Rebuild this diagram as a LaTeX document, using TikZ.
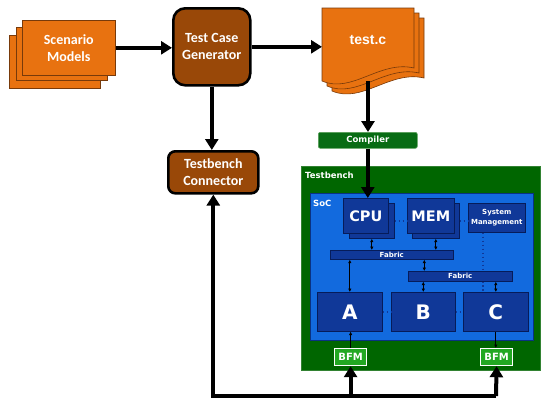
\documentclass[tikz,border=0pt]{standalone}
\usepackage{fontspec}
\setmainfont{DejaVu Sans}
\newfontfamily\calfont{Carlito}
\newfontfamily\arialfont{Liberation Sans}
\usetikzlibrary{arrows.meta}
\definecolor{scenorange}{RGB}{232,114,16}
\definecolor{orangeedge}{RGB}{120,58,10}
\definecolor{genbrown}{RGB}{153,72,8}
\definecolor{tbgreen}{RGB}{0,102,0}
\definecolor{tbedge}{RGB}{50,130,50}
\definecolor{compgreen}{RGB}{8,108,20}
\definecolor{compedge}{RGB}{90,160,90}
\definecolor{socblue}{RGB}{18,106,222}
\definecolor{socedge}{RGB}{10,50,130}
\definecolor{blkblue}{RGB}{16,56,152}
\definecolor{blkedge}{RGB}{6,28,90}
\definecolor{bfmgreen}{RGB}{34,168,34}
\tikzset{
  flowbox/.style={anchor=north west, inner sep=0pt, text=white, align=center},
  orangebox/.style={flowbox, fill=scenorange, draw=orangeedge, line width=0.6pt},
  brownbox/.style={flowbox, fill=genbrown, draw=black, line width=2.6pt,
    font=\calfont\bfseries\fontsize{14}{17}\selectfont},
  bluebox/.style={flowbox, fill=blkblue, draw=blkedge, line width=0.6pt, font=\bfseries},
  bfmbox/.style={flowbox, fill=bfmgreen, draw=white, line width=1.2pt, minimum width=32pt,
    minimum height=17pt, font=\bfseries\fontsize{10}{12}\selectfont},
  tblabel/.style={anchor=base west, inner sep=0pt, text=white, font=\bfseries\fontsize{8.5}{10}\selectfont},
  bigarrow/.style={line width=4pt, -{Triangle[length=11pt,width=13pt]}},
  busarrow/.style={line width=1pt, {Latex[length=3.5pt,width=3.5pt]}-{Latex[length=3.5pt,width=3.5pt]}},
  onearrow/.style={line width=1pt, -{Latex[length=3.5pt,width=3.5pt]}},
  dots/.style={draw=blkblue, line width=1.8pt, dash pattern=on 1.8pt off 2.2pt},
}
\begin{document}
\begin{tikzpicture}[x=1pt,y=-1pt]
  \useasboundingbox (0,0) rectangle (550,407);
  % scenario models stack
  \foreach \x/\y in {9/35, 16/27}
    \draw[fill=scenorange, draw=orangeedge, line width=0.6pt] (\x,\y) rectangle ++(91,53);
  \node[orangebox, minimum width=93pt, minimum height=55pt,
    font=\calfont\bfseries\fontsize{14}{17}\selectfont] (scen) at (22,20) {Scenario\\Models};
  \node[brownbox, rounded corners=12pt, minimum width=77pt, minimum height=77pt] (tcg) at (172,7) {Test Case\\Generator};
  \node[brownbox, rounded corners=7pt, minimum width=90pt, minimum height=42pt] (tbconn) at (167,150) {Testbench\\Connector};
  % test.c pages
  \foreach \d in {10,5,0}
    \draw[fill=scenorange, draw=orangeedge, line width=0.6pt, shift={(\d,\d)}]
      (322,8) -- (414,8) -- (414,68) .. controls (380,60) and (352,94) .. (322,81) -- cycle;
  \node[flowbox, anchor=center, font=\arialfont\bfseries\fontsize{14}{16}\selectfont] (testc) at (368,40) {test.c};
  \coordinate (docin) at (322,47);
  \coordinate (docout) at (368,81);
  \node[flowbox, fill=compgreen, draw=compedge, line width=0.6pt, rounded corners=2pt, minimum width=99pt,
    minimum height=16pt, font=\bfseries\fontsize{8.5}{10}\selectfont] (comp) at (318,132) {Compiler};
  % testbench and soc
  \node[flowbox, fill=tbgreen, draw=tbedge, line width=0.8pt, minimum width=239pt, minimum height=204pt] (tb) at (301,166) {};
  \node[tblabel] (tbname) at (305,178) {Testbench};
  \node[flowbox, fill=socblue, draw=socedge, line width=0.8pt, minimum width=223pt, minimum height=147pt] (soc) at (310,193) {};
  \node[tblabel] (socname) at (313,206) {SoC};
  \node[bluebox, minimum width=45pt, minimum height=35pt] (cpub) at (349,203) {};
  \node[bluebox, minimum width=45pt, minimum height=35pt, font=\bfseries\fontsize{14.5}{16}\selectfont] (cpu) at (343,198) {CPU};
  \node[bluebox, minimum width=47pt, minimum height=35pt] (memb) at (412,203) {};
  \node[bluebox, minimum width=47pt, minimum height=35pt, font=\bfseries\fontsize{14.5}{16}\selectfont] (mem) at (407,198) {MEM};
  \node[bluebox, minimum width=57pt, minimum height=29pt, font=\bfseries\fontsize{7}{9.5}\selectfont] (sys) at (468,203) {System\\Management};
  \foreach \n/\t/\x/\w in {a/A/317/65, b/B/391/64, c/C/463/65}
    \node[bluebox, minimum width=\w pt, minimum height=39pt, font=\bfseries\fontsize{20}{22}\selectfont] (\n) at (\x,292) {\t};
  % dotted links
  \draw[dots] (cpub.east) -- (cpub.east -| mem.west);
  \draw[dots] (memb.east) -- (memb.east -| sys.west);
  \draw[dots] ([xshift=-14pt]sys.south) -- ([xshift=-14pt]sys.south |- 0,271);
  \draw[dots] ([xshift=-14pt]sys.south |- 0,281) -- ([xshift=-14pt]sys.south |- c.north);
  \draw[dots] (a.east) -- (b.west);
  \draw[dots] (b.east) -- (c.west);
  \node[bluebox, minimum width=123pt, minimum height=9pt, font=\bfseries\fontsize{7}{8}\selectfont] (fab1) at (330,250) {Fabric};
  \node[bluebox, minimum width=104pt, minimum height=10pt, font=\bfseries\fontsize{7}{8}\selectfont] (fab2) at (408,271) {Fabric};
  \node[bfmbox] (bfma) at (334,348) {BFM};
  \node[bfmbox] (bfmc) at (480,348) {BFM};
  % inner buses
  \draw[busarrow] (cpub.south) -- (cpub.south |- fab1.north);
  \draw[busarrow] (memb.south) -- (memb.south |- fab1.north);
  \draw[busarrow] ([xshift=-36pt]fab2.north |- fab1.south) -- ([xshift=-36pt]fab2.north);
  \draw[busarrow] (fab1.south -| a.north) -- (a.north);
  \draw[busarrow] (fab2.south -| b.north) -- (b.north);
  \draw[busarrow] (fab2.south -| c.north) -- (c.north);
  \draw[onearrow] (bfma.north) -- (bfma.north |- a.south);
  \draw[onearrow] (c.south) -- (c.south |- bfmc.north);
  % flow arrows
  \draw[bigarrow] (scen.east) -- (scen.east -| tcg.west);
  \draw[bigarrow] (tcg.east) -- (tcg.east -| docin);
  \draw[bigarrow] (tcg.south) -- (tcg.south |- tbconn.north);
  \draw[bigarrow] (docout) -- (docout |- comp.north);
  \draw[bigarrow] (comp.south) -- (comp.south |- cpu.north);
  \coordinate (busr) at (496,396);
  \draw[bigarrow] (busr) -| (tbconn.south);
  \draw[bigarrow] (busr) -- (bfmc.south);
  \draw[bigarrow] (busr -| bfma.south) -- (bfma.south);
\end{tikzpicture}
\end{document}
